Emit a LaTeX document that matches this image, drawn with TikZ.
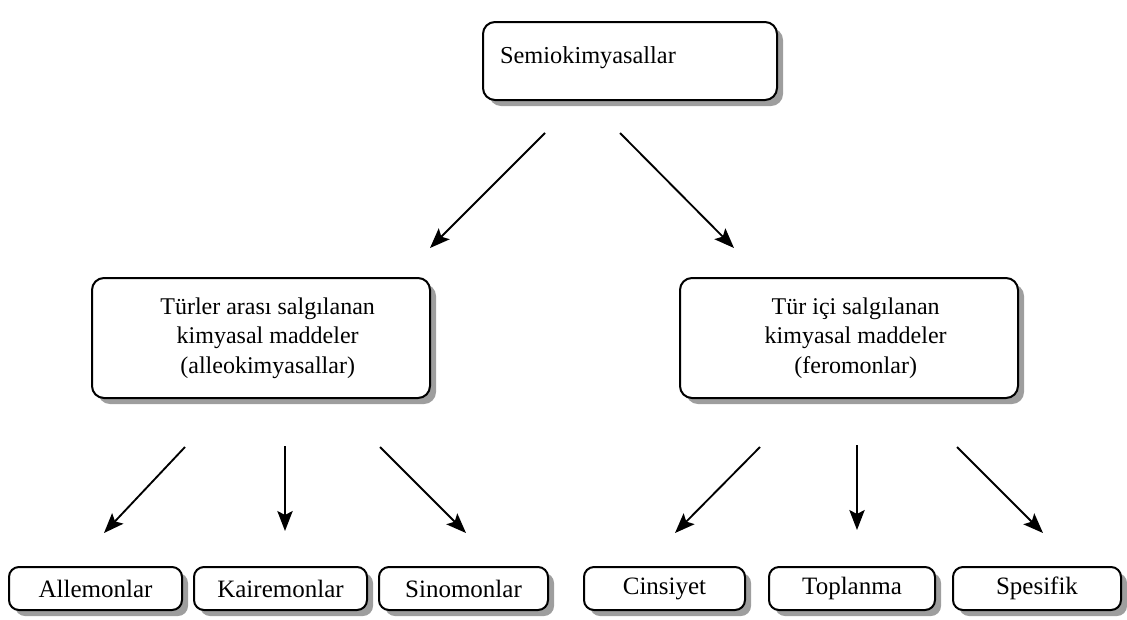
\documentclass[tikz,border=0pt]{standalone}
\usepackage{fontspec}
\setmainfont{Liberation Serif}
\usetikzlibrary{arrows.meta,shadows}
\begin{document}
\begin{tikzpicture}[x=0.75pt,y=-0.75pt,
  box/.style={draw=black, line width=1.5pt, fill=white, rounded corners=9pt,
    drop shadow={fill=black!38, opacity=1, shadow xshift=4.5pt, shadow yshift=-4.5pt},
    inner sep=0pt, align=center, font=\fontsize{18}{22}\selectfont},
  sbox/.style={box, rounded corners=7.5pt, minimum height=32.25pt, font=\fontsize{18.75}{22}\selectfont},
  txt/.style={font=\fontsize{18.25}{22}\selectfont, align=center, inner sep=0pt},
  arr/.style={line width=1.4pt, -{Stealth[length=15pt,width=11.5pt,inset=3pt]}}]
\useasboundingbox (0,0) rectangle (1127,619);

% top
\node[box, minimum width=220.5pt, minimum height=58.5pt] (top) at (630,61) {};
\node[txt] (toptxt) at (588,58) {Semiokimyasallar};

% middle
\node[box, minimum width=253.5pt, minimum height=90pt] (inter) at (261,338)
  {\hspace*{10pt}Türler arası salgılanan\\\hspace*{10pt}kimyasal maddeler\\\hspace*{10pt}(alleokimyasallar)};
\node[box, minimum width=253.5pt, minimum height=90pt] (intra) at (849,338)
  {\hspace*{10pt}Tür içi salgılanan\\\hspace*{10pt}kimyasal maddeler\\\hspace*{10pt}(feromonlar)};

% bottom
\node[sbox, minimum width=129.75pt] (alle) at (95.5,588.5) {Allemonlar};
\node[sbox, minimum width=129.75pt] (kair) at (280.5,588.5) {Kairemonlar};
\node[sbox, minimum width=126.75pt] (sino) at (463.5,588.5) {Sinomonlar};
\node[sbox, minimum width=120.75pt] (cins) at (664.5,588.5) {Cinsiyet};
\node[sbox, minimum width=124.5pt] (topl) at (852,588.5) {Toplanma};
\node[sbox, minimum width=126pt] (spes) at (1037,588.5) {Spesifik};

% arrow end points
\coordinate (a1s) at (545,133); \coordinate (a1e) at (430,248);
\coordinate (a2s) at (620,133); \coordinate (a2e) at (734,248);
\coordinate (b1s) at (185,447); \coordinate (b1e) at (104,533);
\coordinate (b2s) at (285,446); \coordinate (b2e) at (285,531);
\coordinate (b3s) at (380,447); \coordinate (b3e) at (466,533);
\coordinate (c1s) at (760,447); \coordinate (c1e) at (675,533);
\coordinate (c2s) at (857,445); \coordinate (c2e) at (857,530);
\coordinate (c3s) at (957,447); \coordinate (c3e) at (1043,533);

\draw[arr] (a1s) -- (a1e);
\draw[arr] (a2s) -- (a2e);
\draw[arr] (b1s) -- (b1e);
\draw[arr] (b2s) -- (b2e);
\draw[arr] (b3s) -- (b3e);
\draw[arr] (c1s) -- (c1e);
\draw[arr] (c2s) -- (c2e);
\draw[arr] (c3s) -- (c3e);
\end{tikzpicture}
\end{document}
